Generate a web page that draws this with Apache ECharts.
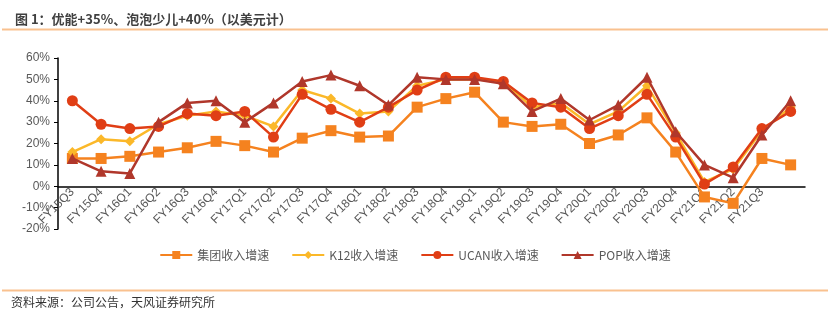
<!DOCTYPE html>
<html><head><meta charset="utf-8">
<script src="https://cdn.jsdelivr.net/npm/echarts@6/dist/echarts.min.js"></script>
<style>html,body{margin:0;padding:0;background:#fff}#c{width:830px;height:322px}</style>
</head><body><div id="c"></div>
<script>
const categories = ['FY15Q3','FY15Q4','FY16Q1','FY16Q2','FY16Q3','FY16Q4','FY17Q1','FY17Q2','FY17Q3','FY17Q4','FY18Q1','FY18Q2','FY18Q3','FY18Q4','FY19Q1','FY19Q2','FY19Q3','FY19Q4','FY20Q1','FY20Q2','FY20Q3','FY20Q4','FY21Q1','FY21Q2','FY21Q3',''];
const groupGrowth = [13,13,14,16,18,21,19,16,22.5,26,23,23.5,37,41,44,30,28,29,20,24,32,16,-5,-8,13,10];
const k12Growth   = [16,22,21,29,33,35,33,28,45,41,34,35,47,50,50,49,37,39,29,35,47,25,2,8,26,37];
const ucanGrowth  = [40,29,27,28,34,33,35,23,43,36,30,37,45,51,51,49,39,37,27,33,43,23,1,9,27,35];
const popGrowth   = [13,7,6,30,39,40,30,39,49,52,47,38,51,50,50,48,35,41,31,38,51,25.5,10,4,24,40];
const seriesNames = ['集团收入增速','K12收入增速','UCAN收入增速','POP收入增速'];
const yMin = -20, yMax = 60, yStep = 10;

const colors = ['#F5821F','#FBB829','#E03E15','#B0372B'];
const symbols = ['rect','diamond','circle','triangle'];
const sizes = [11,10,11,11];
const dataSets = [groupGrowth,k12Growth,ucanGrowth,popGrowth];

const gridTop = 58, gridBottom = 93, H = 322;
const plotH = H - gridTop - gridBottom;
const zeroOffset = -plotH * (0 - yMin) / (yMax - yMin);

const chart = echarts.init(document.getElementById('c'));
const font = 'Arial, "Liberation Sans", "Noto Sans CJK SC", sans-serif';
chart.setOption({
  animation:false,
  textStyle:{fontFamily:font},
  color:colors,
  title:{text:'图 1：优能+35%、泡泡少儿+40%（以美元计）',left:10,top:8,
    textStyle:{fontSize:13,fontWeight:'bold',color:'#404040',fontFamily:'"Noto Sans CJK SC", sans-serif'}},
  graphic:[
    {type:'line',shape:{x1:2,y1:29.5,x2:828,y2:29.5},style:{stroke:'#F9C18F',lineWidth:2}},
    {type:'line',shape:{x1:2,y1:290.5,x2:828,y2:290.5},style:{stroke:'#F9C18F',lineWidth:2}},
    {type:'text',left:11,top:296,style:{text:'资料来源：公司公告，天风证券研究所',fontSize:12,fill:'#333',fontFamily:'"Noto Sans CJK SC", sans-serif'}}
  ],
  legend:{bottom:56,left:'center',itemWidth:32,itemHeight:10,itemGap:22,
    textStyle:{fontSize:12,color:'#595959',fontFamily:'"Noto Sans CJK SC", sans-serif'},data:seriesNames},
  grid:{left:58,right:25,top:gridTop,bottom:gridBottom},
  xAxis:{type:'category',data:categories,boundaryGap:true,offset:zeroOffset,
    axisLine:{onZero:false,lineStyle:{color:'#000',width:1.5}},
    axisTick:{show:false},
    axisLabel:{rotate:45,interval:0,fontSize:12,color:'#595959',margin:4}},
  yAxis:{type:'value',min:yMin,max:yMax,interval:yStep,
    axisLine:{show:true,lineStyle:{color:'#000',width:1.5}},
    axisTick:{show:true,length:4,lineStyle:{color:'#000'}},
    splitLine:{show:false},
    axisLabel:{formatter:v=>v+'%',fontSize:12,color:'#595959',margin:8}},
  series:dataSets.map((d,i)=>({
    name:seriesNames[i],type:'line',data:d,symbol:symbols[i],symbolSize:sizes[i],
    lineStyle:{width:2.5,color:colors[i]},itemStyle:{color:colors[i]},z:2+i
  }))
});
</script></body></html>
